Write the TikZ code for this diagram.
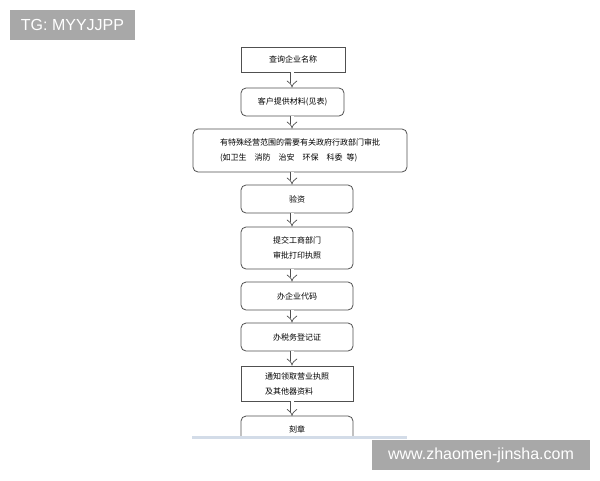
\documentclass[tikz,border=0pt]{standalone}
\usepackage{fontspec}
\setmainfont{Liberation Sans}
\newfontfamily\cjk{Noto Sans CJK SC}
\usetikzlibrary{arrows.meta}
\definecolor{boxline}{HTML}{505050}
\definecolor{markgray}{HTML}{A8A8A8}
\definecolor{cutline}{HTML}{D3DCE8}
\tikzset{
  stepbox/.style={rectangle,draw=boxline,line width=0.8pt,fill=white,font=\cjk\fontsize{8}{15}\selectfont,align=left,inner sep=0pt},
  roundbox/.style={stepbox,rounded corners=5pt},
  dbl/.style={draw=boxline,line width=0.7pt,double=white,double distance=3pt,-{Implies}},
  wmark/.style={rectangle,fill=markgray,text=white,font=\fontsize{16}{16}\selectfont,inner sep=0pt}
}
\begin{document}
\begin{tikzpicture}[x=1pt,y=-1pt]
\useasboundingbox (0,0) rectangle (600,480);
\node (b1) at (293,59.5)[stepbox,minimum width=104pt,minimum height=25pt]{查询企业名称};
\node (b2) at (292.5,102)[roundbox,minimum width=103pt,minimum height=28pt]{客户提供材料(见表)};
\node (b3) at (300,150.5)[roundbox,minimum width=214pt,minimum height=43pt]{有特殊经营范围的需要有关政府行政部门审批\\(如卫生\hspace{8pt}消防\hspace{8pt}治安\hspace{8pt}环保\hspace{8pt}科委\hspace{4pt}等)};
\node (b4) at (297,199)[roundbox,minimum width=112pt,minimum height=28pt]{验资};
\node (b5) at (297,248)[roundbox,minimum width=112pt,minimum height=42pt]{提交工商部门\\审批打印执照};
\node (b6) at (297,296)[roundbox,minimum width=112pt,minimum height=28pt]{办企业代码};
\node (b7) at (297,337)[roundbox,minimum width=112pt,minimum height=28pt]{办税务登记证};
\node (b8) at (297,383.5)[stepbox,minimum width=112pt,minimum height=35pt]{通知领取营业执照\\及其他器资料};
\coordinate (c1) at (292,0);

% last box is cut off at the bottom
\draw[boxline,line width=0.8pt,fill=white,rounded corners=5pt] (241,437)--(241,416)--(353,416)--(353,437);
\node (b9) at (297,429)[font=\cjk\fontsize{8}{10}\selectfont]{刻章};
\fill[cutline] (192,436) rectangle (407,438.5);

\draw[dbl] (b1.south -| c1)--(b2.north -| c1);
\draw[dbl] (b2.south -| c1)--(b3.north -| c1);
\draw[dbl] (b3.south -| c1)--(b4.north -| c1);
\draw[dbl] (b4.south -| c1)--(b5.north -| c1);
\draw[dbl] (b5.south -| c1)--(b6.north -| c1);
\draw[dbl] (b6.south -| c1)--(b7.north -| c1);
\draw[dbl] (b7.south -| c1)--(b8.north -| c1);
\draw[dbl] (b8.south -| c1)--(292,416);

\node (tg) at (72.5,25)[wmark,minimum width=125pt,minimum height=30pt]{TG: MYYJJPP};
\node (web) at (481,455)[wmark,minimum width=218pt,minimum height=30pt]{www.zhaomen-jinsha.com};
\end{tikzpicture}
\end{document}
